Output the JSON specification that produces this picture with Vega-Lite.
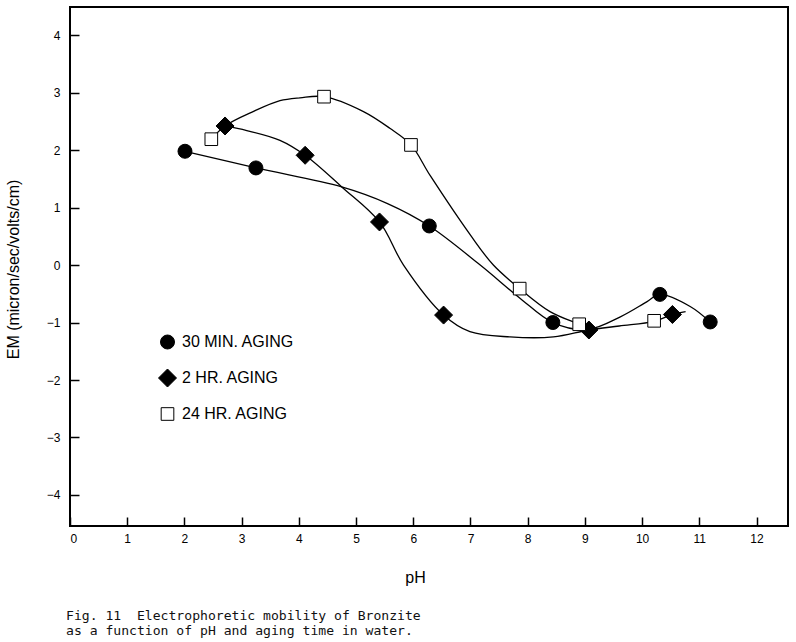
{
  "$schema": "https://vega.github.io/schema/vega-lite/v6.json",
  "width": 718,
  "height": 519,
  "autosize": {"type": "none"},
  "padding": {"left": 70, "top": 7, "right": 8, "bottom": 116},
  "background": "white",
  "title": {
    "text": ["Fig. 11 \u00a0Electrophoretic mobility of Bronzite", "as a function of pH and aging time in water."],
    "orient": "bottom",
    "anchor": "start",
    "frame": "group",
    "font": "DejaVu Sans Mono",
    "fontSize": 13.1,
    "fontWeight": "normal",
    "color": "#111111",
    "lineHeight": 14.5,
    "offset": 25,
    "dx": -4
  },
  "config": {
    "view": {"stroke": "black", "strokeWidth": 2},
    "axis": {
      "domain": false,
      "grid": false,
      "tickColor": "black",
      "tickWidth": 1.5,
      "tickSize": -9,
      "labelFont": "Liberation Sans",
      "labelFontSize": 12,
      "labelColor": "black",
      "titleFont": "Liberation Sans",
      "titleFontSize": 16,
      "titleFontWeight": "normal",
      "titleColor": "black"
    },
    "legend": {
      "orient": "none",
      "legendX": 88,
      "legendY": 327,
      "padding": 0,
      "labelFont": "Liberation Sans",
      "labelFontSize": 16,
      "labelColor": "black",
      "labelOffset": 5,
      "rowPadding": 15.5,
      "symbolStrokeWidth": 1,
      "title": null
    }
  },
  "datasets": {
    "points": [
      {"series": "30 MIN. AGING", "pH": 2.01, "em": 1.98},
      {"series": "30 MIN. AGING", "pH": 3.25, "em": 1.69},
      {"series": "30 MIN. AGING", "pH": 6.28, "em": 0.68},
      {"series": "30 MIN. AGING", "pH": 8.44, "em": -1.0},
      {"series": "30 MIN. AGING", "pH": 10.31, "em": -0.51},
      {"series": "30 MIN. AGING", "pH": 11.19, "em": -0.99},
      {"series": "2 HR. AGING", "pH": 2.71, "em": 2.42},
      {"series": "2 HR. AGING", "pH": 4.11, "em": 1.91},
      {"series": "2 HR. AGING", "pH": 5.41, "em": 0.75},
      {"series": "2 HR. AGING", "pH": 6.53, "em": -0.87},
      {"series": "2 HR. AGING", "pH": 9.07, "em": -1.13},
      {"series": "2 HR. AGING", "pH": 10.53, "em": -0.86},
      {"series": "24 HR. AGING", "pH": 2.47, "em": 2.19},
      {"series": "24 HR. AGING", "pH": 4.44, "em": 2.93},
      {"series": "24 HR. AGING", "pH": 5.96, "em": 2.09},
      {"series": "24 HR. AGING", "pH": 7.86, "em": -0.41},
      {"series": "24 HR. AGING", "pH": 8.9, "em": -1.03},
      {"series": "24 HR. AGING", "pH": 10.21, "em": -0.97}
    ],
    "curves": [
      {"series": "30 MIN. AGING", "pH": 2.01, "em": 1.98},
      {"series": "30 MIN. AGING", "pH": 3.25, "em": 1.69},
      {"series": "30 MIN. AGING", "pH": 4.75, "em": 1.36},
      {"series": "30 MIN. AGING", "pH": 5.55, "em": 1.07},
      {"series": "30 MIN. AGING", "pH": 6.28, "em": 0.68},
      {"series": "30 MIN. AGING", "pH": 7.17, "em": 0.0},
      {"series": "30 MIN. AGING", "pH": 7.87, "em": -0.58},
      {"series": "30 MIN. AGING", "pH": 8.44, "em": -1.0},
      {"series": "30 MIN. AGING", "pH": 9.05, "em": -1.12},
      {"series": "30 MIN. AGING", "pH": 9.62, "em": -0.9},
      {"series": "30 MIN. AGING", "pH": 10.08, "em": -0.64},
      {"series": "30 MIN. AGING", "pH": 10.31, "em": -0.51},
      {"series": "30 MIN. AGING", "pH": 10.84, "em": -0.72},
      {"series": "30 MIN. AGING", "pH": 11.19, "em": -0.99},
      {"series": "2 HR. AGING", "pH": 2.71, "em": 2.42},
      {"series": "2 HR. AGING", "pH": 3.09, "em": 2.34},
      {"series": "2 HR. AGING", "pH": 3.67, "em": 2.17},
      {"series": "2 HR. AGING", "pH": 4.11, "em": 1.91},
      {"series": "2 HR. AGING", "pH": 4.75, "em": 1.36},
      {"series": "2 HR. AGING", "pH": 5.41, "em": 0.75},
      {"series": "2 HR. AGING", "pH": 5.83, "em": 0.0},
      {"series": "2 HR. AGING", "pH": 6.53, "em": -0.87},
      {"series": "2 HR. AGING", "pH": 6.99, "em": -1.16},
      {"series": "2 HR. AGING", "pH": 7.69, "em": -1.25},
      {"series": "2 HR. AGING", "pH": 8.45, "em": -1.25},
      {"series": "2 HR. AGING", "pH": 9.07, "em": -1.13},
      {"series": "2 HR. AGING", "pH": 9.6, "em": -1.06},
      {"series": "2 HR. AGING", "pH": 10.21, "em": -0.98},
      {"series": "2 HR. AGING", "pH": 10.53, "em": -0.86},
      {"series": "2 HR. AGING", "pH": 10.76, "em": -0.81},
      {"series": "24 HR. AGING", "pH": 2.47, "em": 2.19},
      {"series": "24 HR. AGING", "pH": 2.71, "em": 2.42},
      {"series": "24 HR. AGING", "pH": 3.2, "em": 2.67},
      {"series": "24 HR. AGING", "pH": 3.67, "em": 2.86},
      {"series": "24 HR. AGING", "pH": 4.02, "em": 2.91},
      {"series": "24 HR. AGING", "pH": 4.44, "em": 2.93},
      {"series": "24 HR. AGING", "pH": 5.13, "em": 2.67},
      {"series": "24 HR. AGING", "pH": 5.59, "em": 2.38},
      {"series": "24 HR. AGING", "pH": 5.96, "em": 2.09},
      {"series": "24 HR. AGING", "pH": 6.3, "em": 1.55},
      {"series": "24 HR. AGING", "pH": 7.0, "em": 0.52},
      {"series": "24 HR. AGING", "pH": 7.4, "em": 0.0},
      {"series": "24 HR. AGING", "pH": 7.86, "em": -0.41},
      {"series": "24 HR. AGING", "pH": 8.39, "em": -0.81},
      {"series": "24 HR. AGING", "pH": 8.9, "em": -1.03},
      {"series": "24 HR. AGING", "pH": 9.07, "em": -1.1}
    ]
  },
  "encoding": {
    "x": {
      "field": "pH",
      "type": "quantitative",
      "scale": {"domain": [0, 12.55], "nice": false, "zero": false},
      "axis": {
        "values": [0, 1, 2, 3, 4, 5, 6, 7, 8, 9, 10, 11, 12],
        "format": "d",
        "title": "pH",
        "labelPadding": 16,
        "titleX": 345,
        "titleY": 56,
        "titleBaseline": "alphabetic",
        "titleAnchor": "middle"
      }
    },
    "y": {
      "field": "em",
      "type": "quantitative",
      "scale": {"domain": [-4.54, 4.49], "nice": false, "zero": false},
      "axis": {
        "values": [-4, -3, -2, -1, 0, 1, 2, 3, 4],
        "format": "d",
        "title": "EM (micron/sec/volts/cm)",
        "labelPadding": 19,
        "titleX": -52,
        "titleY": 262,
        "titleBaseline": "alphabetic",
        "titleAngle": -90,
        "titleAnchor": "middle"
      }
    }
  },
  "layer": [
    {
      "mark": {"type": "rule", "color": "black", "strokeWidth": 1.5},
      "encoding": {"y": {"datum": 0}, "x": null}
    },
    {
      "data": {"name": "curves"},
      "mark": {"type": "line", "interpolate": "catmull-rom", "color": "black", "strokeWidth": 1.3},
      "encoding": {"detail": {"field": "series", "type": "nominal"}}
    },
    {
      "data": {"name": "points"},
      "mark": {"type": "point", "filled": true, "stroke": "black", "strokeWidth": 1, "opacity": 1},
      "encoding": {
        "shape": {
          "field": "series",
          "type": "nominal",
          "scale": {"domain": ["30 MIN. AGING", "2 HR. AGING", "24 HR. AGING"], "range": ["circle", "diamond", "square"]},
          "legend": {"title": null, "encode": {"symbols": {"stroke": {"value": "black"}, "strokeWidth": {"value": 1}}}}
        },
        "fill": {
          "field": "series",
          "type": "nominal",
          "scale": {"domain": ["30 MIN. AGING", "2 HR. AGING", "24 HR. AGING"], "range": ["black", "black", "white"]},
          "legend": {"title": null, "encode": {"symbols": {"stroke": {"value": "black"}, "strokeWidth": {"value": 1}}}}
        },
        "size": {
          "field": "series",
          "type": "nominal",
          "scale": {"type": "ordinal", "domain": ["30 MIN. AGING", "2 HR. AGING", "24 HR. AGING"], "range": [196, 324, 160]},
          "legend": {"title": null, "encode": {"symbols": {"stroke": {"value": "black"}, "strokeWidth": {"value": 1}}}}
        }
      }
    }
  ]
}
